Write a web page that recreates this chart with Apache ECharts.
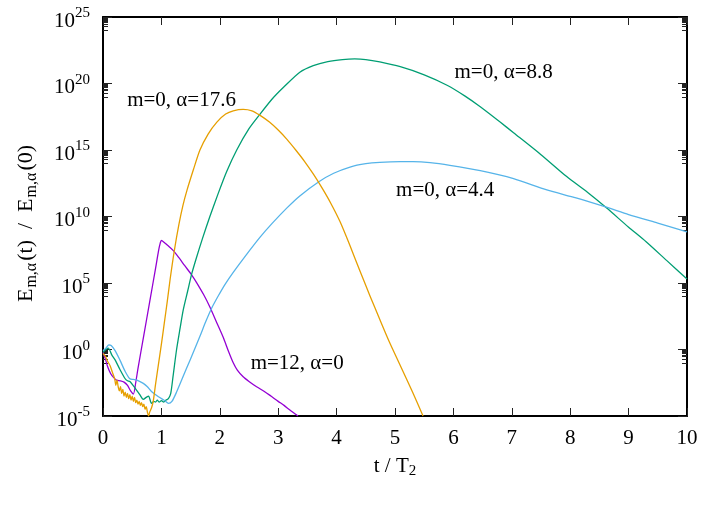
<!DOCTYPE html>
<html>
<head>
<meta charset="utf-8">
<script src="https://cdn.jsdelivr.net/npm/echarts@6/dist/echarts.min.js"></script>
<style>
  html, body { margin: 0; padding: 0; background: #fff; }
  #main { width: 725px; height: 505px; }
</style>
</head>
<body>
<div id="main"></div>
<script>
// t / T2 and log10( E_m,a(t) / E_m,a(0) )
const tPurple = [0, 0.04, 0.08, 0.13, 0.18, 0.23, 0.3, 0.36, 0.42, 0.47, 0.52, 0.56, 0.6, 0.7, 0.8, 0.9, 0.95, 0.98, 1.0, 1.05, 1.1, 1.2, 1.3, 1.4, 1.52, 1.6, 1.72, 1.83, 1.95, 2.06, 2.15, 2.23, 2.3, 2.4, 2.5, 2.63, 2.75, 2.86, 3.0, 3.1, 3.2, 3.34];
const logPurple = [-0.2, -0.7, -1.3, -1.8, -2.1, -2.3, -2.35, -2.45, -2.7, -3.1, -3.35, -2.5, -1.4, 1.1, 3.6, 6.1, 7.4, 8.0, 8.2, 8.05, 7.85, 7.45, 6.9, 6.3, 5.6, 5.05, 4.15, 3.2, 2.0, 0.9, -0.15, -1.0, -1.55, -2.05, -2.4, -2.8, -3.12, -3.45, -3.9, -4.2, -4.55, -5.0];

const tGreen = [0, 0.05, 0.09, 0.15, 0.21, 0.29, 0.38, 0.42, 0.46, 0.55, 0.63, 0.69, 0.74, 0.78, 0.83, 0.87, 0.9, 0.93, 0.96, 1.0, 1.04, 1.08, 1.12, 1.16, 1.2, 1.26, 1.32, 1.375, 1.45, 1.52, 1.6, 1.7, 1.83, 1.97, 2.12, 2.29, 2.5, 2.69, 2.9, 3.1, 3.37, 3.6, 3.85, 4.1, 4.31, 4.5, 4.74, 5.09, 5.5, 5.9, 6.2, 6.46, 6.8, 7.03, 7.5, 7.94, 8.3, 8.62, 9.0, 9.3, 9.65, 10];
const logGreen = [-0.2, 0.0, 0.1, -0.4, -0.8, -1.5, -2.2, -2.35, -2.4, -2.9, -3.4, -3.75, -3.6, -3.5, -4.05, -3.9, -3.95, -3.8, -3.95, -3.85, -3.95, -3.8, -3.7, -3.3, -2.0, 0.0, 1.6, 3.0, 4.4, 5.7, 6.9, 8.3, 10.0, 11.7, 13.4, 15.0, 16.6, 17.7, 18.85, 19.75, 20.85, 21.35, 21.65, 21.8, 21.85, 21.8, 21.62, 21.26, 20.65, 19.85, 19.05, 18.25, 17.1, 16.3, 14.65, 13.0, 11.8, 10.65, 9.2, 8.1, 6.7, 5.3];

const tBlue = [0, 0.05, 0.1, 0.14, 0.21, 0.29, 0.38, 0.46, 0.52, 0.58, 0.69, 0.76, 0.83, 0.95, 1.06, 1.12, 1.18, 1.26, 1.375, 1.49, 1.66, 1.76, 1.86, 1.97, 2.09, 2.23, 2.45, 2.69, 2.9, 3.15, 3.37, 3.69, 3.95, 4.23, 4.5, 4.74, 5.09, 5.31, 5.6, 5.94, 6.46, 7.03, 7.6, 8.1, 8.62, 9.0, 9.5, 10];
const logBlue = [-0.1, 0.1, 0.35, 0.3, -0.1, -0.8, -1.65, -2.2, -2.25, -2.3, -2.55, -2.8, -3.15, -3.55, -3.85, -4.05, -3.9, -3.2, -2.0, -0.8, 1.0, 2.1, 3.1, 4.0, 4.9, 5.8, 7.1, 8.45, 9.5, 10.65, 11.55, 12.6, 13.25, 13.72, 13.97, 14.07, 14.12, 14.12, 14.05, 13.85, 13.45, 12.85, 12.0, 11.4, 10.7, 10.15, 9.5, 8.85];

const tOrange = [0, 0.04, 0.08, 0.12, 0.16, 0.2, 0.22, 0.24, 0.26, 0.28, 0.3, 0.32, 0.34, 0.36, 0.38, 0.4, 0.42, 0.44, 0.46, 0.48, 0.5, 0.52, 0.54, 0.56, 0.58, 0.6, 0.62, 0.64, 0.66, 0.68, 0.7, 0.72, 0.74, 0.76, 0.78, 0.8, 0.83, 0.86, 0.9, 0.95, 1.0, 1.05, 1.1, 1.15, 1.22, 1.3, 1.37, 1.44, 1.55, 1.66, 1.8, 1.95, 2.1, 2.23, 2.4, 2.55, 2.69, 2.85, 3.0, 3.15, 3.3, 3.45, 3.6, 3.75, 3.9, 4.06, 4.23, 4.4, 4.57, 4.74, 4.9, 5.09, 5.3, 5.48];
const logOrange = [-0.3, -0.5, -0.9, -1.2, -1.7, -2.2, -2.7, -2.3, -2.8, -3.1, -2.8, -3.3, -3.0, -3.5, -3.2, -3.6, -3.3, -3.7, -3.4, -3.8, -3.5, -3.9, -3.6, -4.0, -3.8, -4.1, -3.9, -4.2, -4.0, -4.3, -4.1, -4.5, -4.3, -4.7, -5.0, -4.7, -4.4, -3.9, -2.6, -1.1, 0.4, 2.0, 3.6, 5.3, 7.4, 9.4, 10.85, 12.0, 13.55, 15.0, 16.2, 17.1, 17.7, 17.95, 18.06, 17.95, 17.6, 17.1, 16.5, 15.8, 15.0, 14.15, 13.2, 12.15, 11.0, 9.6, 7.8, 5.9, 4.05, 2.25, 0.6, -1.2, -3.2, -5.0];

const seriesNames = ['m=12, α=0', 'm=0, α=8.8', 'm=0, α=4.4', 'm=0, α=17.6'];
const yMajorExp = [-5, 0, 5, 10, 15, 20, 25];

// where each curve label starts (left edge, vertical middle)
const labelSpots = [[2.52, -1.07], [6.01, 20.85], [5.01, 11.93], [0.405, 18.72]];

const serif = 'Liberation Serif';
const colors = ['#9400d3', '#009e73', '#56b4e9', '#e69f00'];

const toData = (ts, logs) => ts.map((t, i) => [t, Math.pow(10, logs[i])]);
const curves = [
  toData(tPurple, logPurple),
  toData(tGreen, logGreen),
  toData(tBlue, logBlue),
  toData(tOrange, logOrange),
];

const majorTicks = yMajorExp.map((k) => Math.pow(10, k));
// gnuplot-style little ticks: 1..9 x 10^(k-1) below every major tick
let minorTicks = [];
yMajorExp.forEach((k) => {
  for (let j = 1; j <= 9; j++) {
    const v = j * Math.pow(10, k - 1);
    if (v >= 1e-5) minorTicks.push(v);
  }
});

const myChart = echarts.init(document.getElementById('main'), null, { renderer: 'canvas' });

const tickStyle = { color: '#222', width: 1 };
const yBase = {
  type: 'log',
  logBase: 10,
  min: 1e-5,
  max: 1e25,
  splitLine: { show: false },
  minorTick: { show: false },
};
const xBase = {
  type: 'value',
  min: 0,
  max: 10,
  interval: 1,
  splitLine: { show: false },
};

const option = {
  animation: false,
  backgroundColor: '#fff',
  grid: { left: 103, right: 38, top: 17, bottom: 89, containLabel: false },
  xAxis: [
    {
      ...xBase,
      position: 'bottom',
      axisLine: { show: true, onZero: false, lineStyle: { color: '#000', width: 2 } },
      axisTick: { show: true, inside: true, length: 8, lineStyle: tickStyle },
      axisLabel: { color: '#000', fontFamily: serif, fontSize: 21, lineHeight: 21, margin: 12 },
      name: '{n|t / T}{s|2}',
      nameLocation: 'middle',
      nameGap: 39,
      nameTextStyle: {
        rich: {
          n: { fontFamily: serif, fontSize: 21, lineHeight: 21, color: '#000' },
          s: { fontFamily: serif, fontSize: 15, lineHeight: 15, color: '#000', padding: [10, 0, 0, 0] },
        },
      },
    },
    {
      ...xBase,
      position: 'top',
      axisLine: { show: true, onZero: false, lineStyle: { color: '#000', width: 2 } },
      axisTick: { show: true, inside: true, length: 8, lineStyle: tickStyle },
      axisLabel: { show: false },
    },
  ],
  yAxis: [
    {
      ...yBase,
      position: 'left',
      axisLine: { show: true, lineStyle: { color: '#000', width: 2 } },
      axisTick: { show: true, inside: true, length: 5, customValues: minorTicks, lineStyle: tickStyle },
      axisLabel: {
        customValues: majorTicks,
        margin: 13,
        formatter: (v) => '{b|10}{s|' + Math.round(Math.log10(v)) + '}',
        rich: {
          b: { fontFamily: serif, fontSize: 21, lineHeight: 21, color: '#000', padding: [8, 0, 0, 0] },
          s: { fontFamily: serif, fontSize: 15, lineHeight: 15, color: '#000', padding: [0, 0, 7, 0] },
        },
      },
      name: '{n|E}{s|m,α}{n|(t)  /  E}{s|m,α}{n|(0)}',
      nameLocation: 'middle',
      nameRotate: 90,
      nameGap: 66,
      nameTextStyle: {
        padding: [0, 14, 0, 0],
        rich: {
          n: { fontFamily: serif, fontSize: 22, lineHeight: 22, color: '#000' },
          s: { fontFamily: serif, fontSize: 16, lineHeight: 16, color: '#000', padding: [12, 2, 0, 1] },
        },
      },
    },
    {
      ...yBase,
      position: 'left',
      axisLine: { show: false },
      axisTick: { show: true, inside: true, length: 9, customValues: majorTicks, lineStyle: tickStyle },
      axisLabel: { show: false },
    },
    {
      ...yBase,
      position: 'right',
      axisLine: { show: true, lineStyle: { color: '#000', width: 2 } },
      axisTick: { show: true, inside: true, length: 5, customValues: minorTicks, lineStyle: tickStyle },
      axisLabel: { show: false },
    },
    {
      ...yBase,
      position: 'right',
      axisLine: { show: false },
      axisTick: { show: true, inside: true, length: 9, customValues: majorTicks, lineStyle: tickStyle },
      axisLabel: { show: false },
    },
  ],
  series: curves.map((data, i) => ({
    name: seriesNames[i],
    type: 'line',
    xAxisIndex: 0,
    yAxisIndex: 0,
    data: data,
    showSymbol: false,
    smooth: 0.25,
    lineStyle: { color: colors[i], width: 1.3 },
    itemStyle: { color: colors[i] },
    markPoint: {
      symbol: 'rect',
      symbolSize: 1,
      itemStyle: { color: 'rgba(0,0,0,0)' },
      label: {
        show: true,
        position: 'right',
        distance: 0,
        color: '#000',
        fontFamily: serif,
        fontSize: 21,
        formatter: seriesNames[i],
      },
      data: [{ coord: [labelSpots[i][0], Math.pow(10, labelSpots[i][1])] }],
    },
  })),
};

option && myChart.setOption(option);
</script>
</body>
</html>
